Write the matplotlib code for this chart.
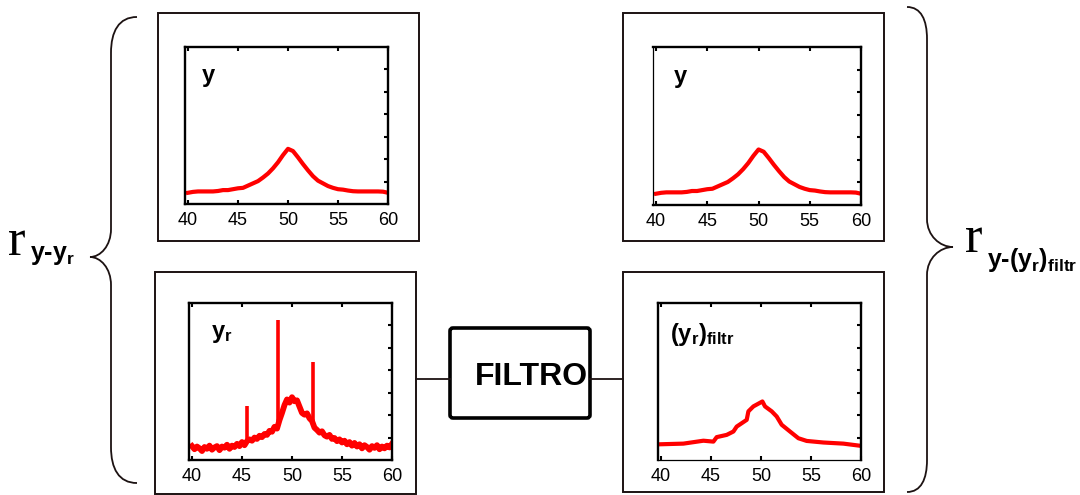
import matplotlib

matplotlib.use("Agg")

import matplotlib.pyplot as plt
import numpy as np
from matplotlib.patches import FancyBboxPatch, PathPatch, Rectangle
from matplotlib.path import Path


# measured signal: clean peak
Y_X = np.linspace(40, 60, 41)
Y_VALS = [0.50, 0.54, 0.56, 0.56, 0.56, 0.56, 0.58, 0.62, 0.62, 0.66,
          0.70, 0.72, 0.82, 0.92, 1.02, 1.18, 1.36, 1.59, 1.86, 2.18,
          2.46, 2.36, 2.08, 1.78, 1.50, 1.24, 1.04, 0.92, 0.80, 0.72,
          0.66, 0.64, 0.60, 0.57, 0.56, 0.56, 0.56, 0.56, 0.56, 0.55,
          0.50]

# noisy reconstruction y_r
YR_X = np.linspace(40, 60, 81)
YR_VALS = [0.62, 0.48, 0.60, 0.52, 0.40, 0.58, 0.50, 0.64, 0.46, 0.56,
           0.62, 0.44, 0.60, 0.55, 0.68, 0.50, 0.64, 0.58, 0.72, 0.62,
           0.80, 0.66, 0.84, 0.92, 0.86, 1.00, 0.94, 1.08, 1.02, 1.16,
           1.12, 1.30, 1.26, 1.48, 1.40, 1.78, 2.10, 2.45, 2.70, 2.56,
           2.80, 2.62, 2.66, 2.38, 2.10, 2.02, 2.08, 1.86, 1.74, 1.44,
           1.34, 1.22, 1.28, 1.10, 1.04, 1.12, 0.94, 0.98, 0.84, 0.92,
           0.78, 0.86, 0.70, 0.80, 0.64, 0.76, 0.60, 0.70, 0.52, 0.66,
           0.58, 0.46, 0.62, 0.54, 0.66, 0.48, 0.60, 0.52, 0.64, 0.56,
           0.72]
SPIKE_X = [45.5, 48.6, 52.1]
SPIKE_BASE = [0.85, 1.50, 1.60]
SPIKE_TOP = [2.42, 6.24, 4.35]

# filtered reconstruction (y_r)_filtr
YF_X = [39.84, 42.24, 44.24, 45.24, 45.57, 46.57, 47.24, 47.57, 48.57, 48.74,
        49.24, 50.14, 50.40, 51.07, 51.57, 52.07, 52.90, 53.74, 54.57, 56.24,
        58.24, 60.00]
YF_VALS = [0.70, 0.73, 0.86, 0.82, 1.02, 1.12, 1.27, 1.49, 1.79, 2.17,
           2.39, 2.61, 2.39, 2.17, 1.94, 1.57, 1.27, 0.97, 0.85, 0.78,
           0.73, 0.63]

X_TICKS = [40, 45, 50, 55, 60]
Y_TICKS = [1, 2, 3, 4, 5, 6]

RED = "#ff0000"
INK = "#1c1212"

plt.rcParams.update(
    {
        "font.family": "Liberation Sans",
        "mathtext.fontset": "custom",
        "mathtext.rm": "Liberation Sans:bold",
        "mathtext.it": "Liberation Sans:bold",
        "mathtext.bf": "Liberation Sans:bold",
    }
)


def panel(fig, rect, label, lx, ly):
    ax = fig.add_axes(rect)
    ax.set_xlim(39.7, 60.0)
    ax.set_ylim(0, 7)
    ax.set_xticks(X_TICKS)
    ax.set_yticks(Y_TICKS)
    ax.tick_params(axis="x", direction="in", top=True, bottom=True, length=3,
                   width=1.5, pad=6, labelsize=13)
    ax.tick_params(axis="y", direction="in", left=False, right=True,
                   labelleft=False, length=3, width=1.5)
    for sp in ax.spines.values():
        sp.set_linewidth(1.7)
    ax.text(lx, ly, label, transform=ax.transAxes, fontsize=17,
            fontweight="bold", va="baseline", ha="left")
    return ax


def brace(ax, x_end, x_stem, x_tip, y_top, y_mid, y_bot, r_end, r_tip):
    xm = (x_stem + x_tip) / 2
    xe = x_stem + (x_end - x_stem) * 0.3
    verts = [
        (x_end, y_top),
        (xe, y_top), (x_stem, y_top + r_end * 0.4), (x_stem, y_top + r_end),
        (x_stem, y_mid - r_tip),
        (x_stem, y_mid - r_tip * 0.4), (xm, y_mid), (x_tip, y_mid),
        (xm, y_mid), (x_stem, y_mid + r_tip * 0.4), (x_stem, y_mid + r_tip),
        (x_stem, y_bot - r_end),
        (x_stem, y_bot - r_end * 0.4), (xe, y_bot), (x_end, y_bot),
    ]
    codes = ([Path.MOVETO] + [Path.CURVE4] * 3 + [Path.LINETO]
             + [Path.CURVE4] * 6 + [Path.LINETO] + [Path.CURVE4] * 3)
    ax.add_patch(PathPatch(Path(verts, codes), fill=False, lw=1.3, color=INK))


fig = plt.figure(figsize=(10.8, 4.95), dpi=100)

# pixel-space layer for frames, braces and the filter block
ov = fig.add_axes([0, 0, 1, 1], zorder=-1)
ov.set_xlim(0, 1080)
ov.set_ylim(495, 0)
ov.axis("off")

for x0, y0, x1, y1 in [(158, 13, 419, 241), (155, 272, 416, 494),
                       (623, 13, 884, 241), (623, 272, 884, 492)]:
    ov.add_patch(Rectangle((x0, y0), x1 - x0, y1 - y0, fill=False, lw=1.4, ec=INK))

ov.plot([416, 450], [379, 379], color=INK, lw=1.3)
ov.plot([590, 623], [379, 379], color=INK, lw=1.3)
ov.add_patch(FancyBboxPatch((450, 328), 140, 90, boxstyle="round,pad=0,rounding_size=3",
                            fill=False, lw=2.6, ec="black"))
ov.text(531, 377, "FILTRO", fontsize=23, fontweight="bold", ha="center", va="center")

brace(ov, 137, 111, 90, 17, 257, 483, 36, 28)
brace(ov, 907, 927, 953, 7, 247, 492, 32, 28)

ov.text(8, 255, "r", family="Liberation Serif", fontsize=38, va="baseline")
ov.text(30, 260, "y-$y_r$", fontsize=18, fontweight="bold", va="baseline")
ov.text(965, 252, "r", family="Liberation Serif", fontsize=38, va="baseline")
ov.text(987, 267, "y-$(y_r)_{filtr}$", fontsize=18, fontweight="bold", va="baseline")

ax_tl = panel(fig, [185 / 1080, 291 / 495, 203 / 1080, 157 / 495], "y", 0.085, 0.775)
ax_tl.plot(Y_X, Y_VALS, color=RED, lw=3)

ax_bl = panel(fig, [189 / 1080, 35 / 495, 203 / 1080, 157 / 495], "$y_r$", 0.11, 0.775)
ax_bl.plot(YR_X, YR_VALS, color=RED, lw=4.2)
ax_bl.vlines(SPIKE_X, SPIKE_BASE, SPIKE_TOP, color=RED, lw=2.6)

ax_tr = panel(fig, [653 / 1080, 290 / 495, 208 / 1080, 158 / 495], "y", 0.10, 0.77)
ax_tr.plot(Y_X, Y_VALS, color=RED, lw=3)
ax_tr.spines["left"].set_linewidth(0.9)

ax_br = panel(fig, [658 / 1080, 35 / 495, 203 / 1080, 157 / 495], "$(y_r)_{filtr}$", 0.06, 0.76)
ax_br.plot(YF_X, YF_VALS, color=RED, lw=3)
ax_br.spines["bottom"].set_linewidth(0.9)

fig.savefig("out.png", dpi=100)
